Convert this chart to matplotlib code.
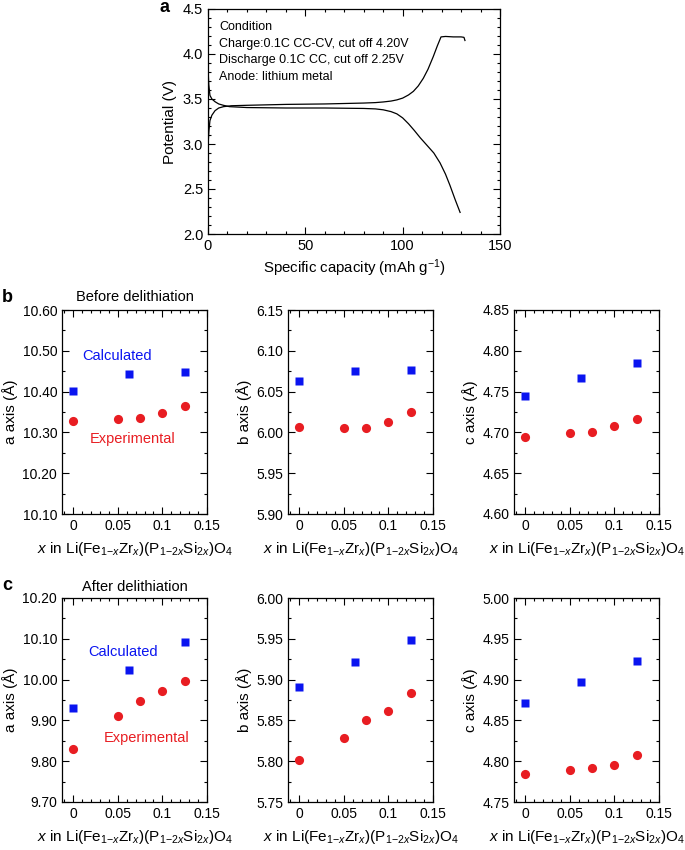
import matplotlib
matplotlib.use("Agg")
import matplotlib.pyplot as plt
from matplotlib.ticker import MultipleLocator, FixedLocator, FormatStrFormatter

plt.rcParams['font.family'] = ['Liberation Sans', 'DejaVu Sans']
plt.rcParams['mathtext.fontset'] = 'custom'
plt.rcParams['mathtext.rm'] = 'Liberation Sans'
plt.rcParams['mathtext.it'] = 'Liberation Sans:italic'
plt.rcParams['mathtext.bf'] = 'Liberation Sans:bold'

# ---------------- data ----------------
charge_cap = [0, 0.2, 0.5, 1.0, 2.0, 3.6, 5.5, 8, 12, 20, 40, 60, 80, 86, 90, 94, 97, 100,
              103, 105.5, 108, 110.6, 113, 115.7, 117.8, 119.7, 122, 126, 130, 131.5, 132]
charge_v = [2.93, 3.05, 3.15, 3.26, 3.32, 3.37, 3.40, 3.415, 3.425, 3.43, 3.44, 3.445, 3.455,
            3.46, 3.467, 3.477, 3.49, 3.51, 3.545, 3.585, 3.645, 3.73, 3.83, 3.97, 4.09, 4.19,
            4.195, 4.19, 4.19, 4.185, 4.15]

discharge_cap = [0, 0.1, 0.4, 1.0, 2.0, 3.6, 5.5, 7.9, 11, 20, 40, 60, 80, 86, 90, 94, 97,
                 100, 103, 106, 109, 112.3, 116, 119.2, 122, 124.3, 127, 129.5]
discharge_v = [4.05, 3.80, 3.66, 3.54, 3.50, 3.47, 3.445, 3.43, 3.415, 3.405, 3.40, 3.40,
               3.395, 3.39, 3.38, 3.36, 3.335, 3.29, 3.225, 3.15, 3.07, 2.99, 2.90, 2.79,
               2.665, 2.54, 2.38, 2.24]

conditions = ["Condition",
              "Charge:0.1C CC-CV, cut off 4.20V",
              "Discharge 0.1C CC, cut off 2.25V",
              "Anode: lithium metal"]

x_calc = [0, 0.0625, 0.125]
x_exp = [0, 0.05, 0.075, 0.1, 0.125]

before_a_calc = [10.402, 10.444, 10.449]
before_a_exp = [10.327, 10.333, 10.336, 10.348, 10.364]
before_b_calc = [6.063, 6.075, 6.077]
before_b_exp = [6.007, 6.005, 6.005, 6.013, 6.025]
before_c_calc = [4.745, 4.767, 4.785]
before_c_exp = [4.694, 4.699, 4.701, 4.708, 4.716]

after_a_calc = [9.930, 10.024, 10.092]
after_a_exp = [9.831, 9.912, 9.948, 9.972, 9.997]
after_b_calc = [5.891, 5.922, 5.948]
after_b_exp = [5.802, 5.828, 5.851, 5.862, 5.884]
after_c_calc = [4.871, 4.897, 4.923]
after_c_exp = [4.784, 4.789, 4.792, 4.795, 4.808]

x_ticks = [0, 0.05, 0.1, 0.15]
x_ticklabels = ["0", "0.05", "0.1", "0.15"]
axis_names = ["a axis (Å)", "b axis (Å)", "c axis (Å)"]

BLUE = "#0a14f0"
RED = "#e81d22"

W, H = 685, 850
fig = plt.figure(figsize=(W / 100, H / 100), dpi=100)

def rect(l, t, r, b):
    return [l / W, 1 - b / H, (r - l) / W, (b - t) / H]

def style(ax, size):
    ax.tick_params(which='both', direction='in', top=True, right=True, labelsize=size,
                   width=0.8, pad=3.5)
    ax.tick_params(which='major', length=5)
    ax.tick_params(which='minor', length=2.5)
    for s in ax.spines.values():
        s.set_linewidth(0.9)

# ---------------- panel a ----------------
ax = fig.add_axes(rect(208, 9, 500, 234))
ax.plot(charge_cap, charge_v, color='black', lw=0.9)
ax.plot(discharge_cap, discharge_v, color='black', lw=0.9)
ax.set_xlim(0, 150)
ax.set_ylim(2.0, 4.5)
ax.xaxis.set_major_locator(MultipleLocator(50))
ax.xaxis.set_minor_locator(MultipleLocator(10))
ax.yaxis.set_major_locator(MultipleLocator(0.5))
ax.yaxis.set_minor_locator(MultipleLocator(0.1))
ax.yaxis.set_major_formatter(FormatStrFormatter('%.1f'))
style(ax, 10.5)
ax.set_xlabel("Specific capacity (mAh g$^{-1}$)", fontsize=10.8, labelpad=3)
ax.set_ylabel("Potential (V)", fontsize=11, labelpad=4)
for i, t in enumerate(conditions):
    ax.text(0.038, 0.92 - i * 0.0742, t, transform=ax.transAxes, fontsize=9.0,
            va='center', ha='left')
fig.text(159 / W, 1 - 7 / H, "a", fontsize=13, fontweight='bold', va='center', ha='left')

# ---------------- panels b, c ----------------
lefts = [62, 288, 514]
rows = [
    (310, 514, [before_a_calc, before_b_calc, before_c_calc],
     [before_a_exp, before_b_exp, before_c_exp],
     [(10.10, 10.60, 0.10, 0.05), (5.90, 6.15, 0.05, 0.025), (4.60, 4.85, 0.05, 0.025)]),
    (598, 802, [after_a_calc, after_b_calc, after_c_calc],
     [after_a_exp, after_b_exp, after_c_exp],
     [(9.70, 10.20, 0.10, 0.05), (5.75, 6.00, 0.05, 0.025), (4.75, 5.00, 0.05, 0.025)]),
]
xlabel = (r"$\mathit{x}$ in Li(Fe$_{1\mathrm{-}\mathit{x}}$Zr$_{\mathit{x}}$)"
          r"(P$_{1\mathrm{-}2\mathit{x}}$Si$_{2\mathit{x}}$)O$_4$")

for (top, bot, calcs, exps, lims) in rows:
    for j in range(3):
        ax = fig.add_axes(rect(lefts[j], top, lefts[j] + 145, bot))
        ax.plot(x_calc, calcs[j], 's', color=BLUE, ms=5.8, mec='none')
        ax.plot(x_exp, exps[j], 'o', color=RED, ms=6.6, mec='none')
        lo, hi, maj, mnr = lims[j]
        ax.set_ylim(lo, hi)
        ax.set_xlim(-0.0125, 0.15)
        ax.xaxis.set_major_locator(FixedLocator(x_ticks))
        ax.set_xticklabels(x_ticklabels)
        ax.xaxis.set_minor_locator(MultipleLocator(0.01))
        ax.yaxis.set_major_locator(MultipleLocator(maj))
        ax.yaxis.set_minor_locator(MultipleLocator(mnr))
        ax.yaxis.set_major_formatter(FormatStrFormatter('%.2f'))
        style(ax, 10)
        ax.set_ylabel(axis_names[j], fontsize=11, labelpad=3)
        ax.set_xlabel(xlabel, fontsize=11, labelpad=5)

# annotations
fig.text(117 / W, 1 - 356 / H, "Calculated", color=BLUE, fontsize=10.5, ha='center', va='center')
fig.text(133 / W, 1 - 439 / H, "Experimental", color=RED, fontsize=10.5, ha='center', va='center')
fig.text(123 / W, 1 - 652 / H, "Calculated", color=BLUE, fontsize=10.5, ha='center', va='center')
fig.text(147 / W, 1 - 738 / H, "Experimental", color=RED, fontsize=10.5, ha='center', va='center')

fig.text(135 / W, 1 - 297 / H, "Before delithiation", fontsize=10.5, ha='center', va='center')
fig.text(135 / W, 1 - 587 / H, "After delithiation", fontsize=10.5, ha='center', va='center')
fig.text(2 / W, 1 - 298 / H, "b", fontsize=13, fontweight='bold', ha='left', va='center')
fig.text(2 / W, 1 - 586 / H, "c", fontsize=13, fontweight='bold', ha='left', va='center')

fig.savefig("out.png", dpi=100)
